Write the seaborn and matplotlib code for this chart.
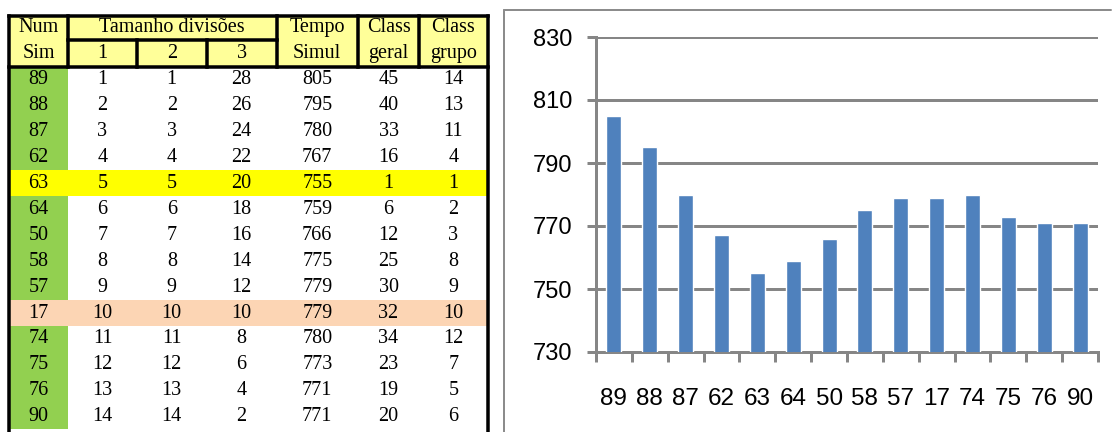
import matplotlib
matplotlib.use("Agg")
import matplotlib.pyplot as plt
import seaborn as sns
import pandas as pd
from matplotlib.patches import Rectangle
from matplotlib.ticker import FixedLocator

# ---- data ----
num_sim = ["89", "88", "87", "62", "63", "64", "50", "58", "57", "17", "74", "75", "76", "90"]
div_1 = [1, 2, 3, 4, 5, 6, 7, 8, 9, 10, 11, 12, 13, 14]
div_2 = [1, 2, 3, 4, 5, 6, 7, 8, 9, 10, 11, 12, 13, 14]
div_3 = [28, 26, 24, 22, 20, 18, 16, 14, 12, 10, 8, 6, 4, 2]
tempo_simul = [805, 795, 780, 767, 755, 759, 766, 775, 779, 779, 780, 773, 771, 771]
class_geral = [45, 40, 33, 16, 1, 6, 12, 25, 30, 32, 34, 23, 19, 20]
class_grupo = [14, 13, 11, 4, 1, 2, 3, 8, 9, 10, 12, 7, 5, 6]
y_ticks = [730, 750, 770, 790, 810, 830]

# ---- styling ----
HEADER_FILL = "#FFFF99"
ID_FILL = "#92D050"
ROW_FILL = {"63": "#FFFF00", "17": "#FCD5B4"}
BAR_COLOR = "#4F81BD"
GRID_GRAY = "#868686"
FRAME_GRAY = "#8C8C8C"
PX = 0.72  # points per pixel at 100 dpi

sns.set_theme(style="white")
plt.rcParams["font.family"] = ["Liberation Sans", "DejaVu Sans"]

fig = plt.figure(figsize=(11.12, 4.32), dpi=100)
fig.patch.set_facecolor("white")

# canvas in pixel coordinates for the table and the chart frame
bg = fig.add_axes([0, 0, 1, 1])
bg.set_xlim(0, 1112)
bg.set_ylim(432, 0)
bg.axis("off")

col_edges = [9, 68, 137, 206.5, 276.5, 358, 419, 487.5]
col_centers = [(a + b) / 2 for a, b in zip(col_edges[:-1], col_edges[1:])]
top, mid, head_bot = 16, 40, 67
row_top, row_h = 66.5, 25.9

serif = dict(family=["Liberation Serif", "DejaVu Serif"], fontsize=14.5, color="black",
             ha="center", va="center")

# header fill
bg.add_patch(Rectangle((col_edges[0], top), col_edges[-1] - col_edges[0], head_bot - top,
                       facecolor=HEADER_FILL, edgecolor="none", zorder=1))

# body fills and values
columns = [num_sim, div_1, div_2, div_3, tempo_simul, class_geral, class_grupo]
for i, sim in enumerate(num_sim):
    y0 = row_top + i * row_h
    if sim in ROW_FILL:
        bg.add_patch(Rectangle((col_edges[0], y0), col_edges[-1] - col_edges[0], row_h,
                               facecolor=ROW_FILL[sim], edgecolor="none", zorder=1))
    else:
        bg.add_patch(Rectangle((col_edges[0], y0), col_edges[1] - col_edges[0], row_h,
                               facecolor=ID_FILL, edgecolor="none", zorder=1))
    for c, col in enumerate(columns):
        bg.text(col_centers[c], y0 + row_h / 2 + 0.5, str(col[i]), zorder=3, **serif)

# borders
lw = 3.5 * PX
line = dict(color="black", lw=lw, zorder=4, solid_capstyle="projecting")
bg.plot([col_edges[0], col_edges[0]], [top, 432], **line)
bg.plot([col_edges[-1], col_edges[-1]], [top, 432], **line)
bg.plot([col_edges[0], col_edges[-1]], [top, top], **line)
bg.plot([col_edges[0], col_edges[-1]], [head_bot, head_bot], **line)
bg.plot([col_edges[1], col_edges[4]], [mid, mid], **line)
for x in (col_edges[1], col_edges[4], col_edges[5], col_edges[6]):
    bg.plot([x, x], [top, head_bot], **line)
for x in (col_edges[2], col_edges[3]):
    bg.plot([x, x], [mid, head_bot], **line)

# header text
y_a, y_b = 27.5, 53.5
bg.text(col_centers[0], y_a, "Num", zorder=3, **serif)
bg.text(col_centers[0], y_b, "Sim", zorder=3, **serif)
bg.text((col_edges[1] + col_edges[4]) / 2, y_a, "Tamanho divisões", zorder=3, **serif)
for c, lab in zip((1, 2, 3), ("1", "2", "3")):
    bg.text(col_centers[c], y_b, lab, zorder=3, **serif)
for c, (a, b) in zip((4, 5, 6), (("Tempo", "Simul"), ("Class", "geral"), ("Class", "grupo"))):
    bg.text(col_centers[c], y_a, a, zorder=3, **serif)
    bg.text(col_centers[c], y_b, b, zorder=3, **serif)

# chart frame
frame = dict(color=FRAME_GRAY, lw=2 * PX, zorder=2)
bg.plot([503.5, 503.5], [9.5, 432], **frame)
bg.plot([503.5, 1111], [9.5, 9.5], **frame)

# ---- bar chart ----
ax = fig.add_axes([596 / 1112, (432 - 352) / 432, (1098 - 596) / 1112, (352 - 37) / 432])
df = pd.DataFrame({"sim": num_sim, "tempo": tempo_simul})
sns.barplot(data=df, x="sim", y="tempo", color=BAR_COLOR, width=0.42, saturation=1,
            ax=ax, zorder=3)
ax.set_ylim(y_ticks[0], y_ticks[-1])
ax.set_xlim(-0.5, len(num_sim) - 0.5)
ax.set_yticks(y_ticks)
ax.set_xlabel("")
ax.set_ylabel("")
ax.set_facecolor("none")
ax.set_axisbelow(True)
ax.yaxis.grid(True, color=GRID_GRAY, lw=3 * PX)
ax.xaxis.grid(False)
for s in ("top", "right"):
    ax.spines[s].set_visible(False)
for s in ("left", "bottom"):
    ax.spines[s].set_color(GRID_GRAY)
    ax.spines[s].set_linewidth(3 * PX)

ax.tick_params(axis="y", which="major", direction="out", length=9 * PX, width=3 * PX,
               color=GRID_GRAY, pad=10.5, labelsize=17, labelcolor="black", left=True)
ax.tick_params(axis="x", which="major", length=0, pad=26, labelsize=17.5, labelcolor="black")
ax.xaxis.set_minor_locator(FixedLocator([k - 0.5 for k in range(len(num_sim) + 1)]))
ax.tick_params(axis="x", which="minor", direction="out", length=10 * PX, width=3 * PX,
               color=GRID_GRAY, bottom=True)

fig.savefig("out.png", dpi=100)
